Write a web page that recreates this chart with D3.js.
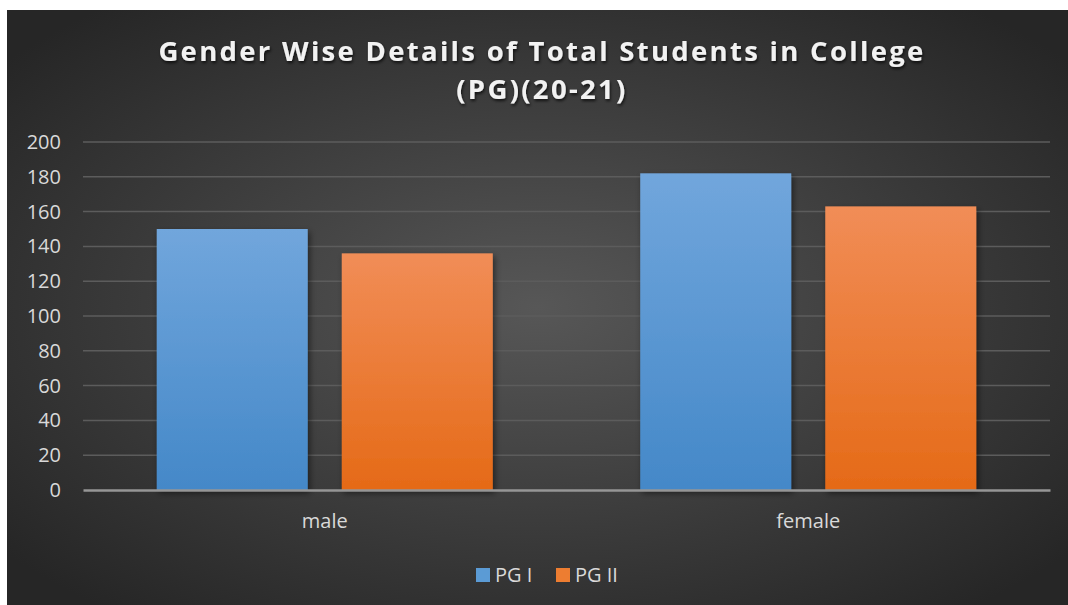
<!doctype html>
<html lang="en">
  <head>
    <meta charset="utf-8">
    <title>Gender Wise Details</title>
    <style>
      body { margin: 0; background: #fff; }
      svg { display: block; }
    </style>
  </head>
  <body>
    <div id="chart"></div>
    <script src="https://d3js.org/d3.v7.min.js"></script>
    <script>
    // data
    var categories = ["male", "female"];
    var series = ["PG I", "PG II"];
    var pg1 = [150, 182];
    var pg2 = [136, 163];
    var yTicks = [0, 20, 40, 60, 80, 100, 120, 140, 160, 180, 200];
    var titleLines = ["Gender Wise Details of Total Students in College", "(PG)(20-21)"];

    var values = [pg1, pg2];
    var rows = categories.map(function(c, i) {
      return { cat: c, vals: series.map(function(s, j) { return { key: s, value: values[j][i] }; }) };
    });

    var W = 1068, H = 605;
    var font = "'Open Sans', sans-serif";
    var svg = d3.select("#chart").append("svg")
        .attr("width", W)
        .attr("height", H);

    var defs = svg.append("defs");

    // radial background
    var bg = defs.append("radialGradient").attr("id", "bg")
        .attr("cx", "50%").attr("cy", "50%").attr("r", "65%");
    bg.append("stop").attr("offset", "0%").attr("stop-color", "#575757");
    bg.append("stop").attr("offset", "100%").attr("stop-color", "#262626");

    var blue = defs.append("linearGradient").attr("id", "blue")
        .attr("x1", 0).attr("y1", 0).attr("x2", 0).attr("y2", 1);
    blue.append("stop").attr("offset", "0%").attr("stop-color", "#71a6dc");
    blue.append("stop").attr("offset", "100%").attr("stop-color", "#4488c8");

    var orange = defs.append("linearGradient").attr("id", "orange")
        .attr("x1", 0).attr("y1", 0).attr("x2", 0).attr("y2", 1);
    orange.append("stop").attr("offset", "0%").attr("stop-color", "#f18d57");
    orange.append("stop").attr("offset", "100%").attr("stop-color", "#e56a17");

    var shadow = defs.append("filter").attr("id", "shadow")
        .attr("x", "-20%").attr("y", "-20%").attr("width", "140%").attr("height", "140%");
    shadow.append("feDropShadow").attr("dx", 2).attr("dy", 3).attr("stdDeviation", 3)
        .attr("flood-color", "#000").attr("flood-opacity", 0.5);

    var tshadow = defs.append("filter").attr("id", "tshadow");
    tshadow.append("feDropShadow").attr("dx", 1).attr("dy", 2).attr("stdDeviation", 1.5)
        .attr("flood-color", "#000").attr("flood-opacity", 0.7);

    svg.append("rect")
        .attr("x", 7).attr("y", 10)
        .attr("width", W - 7).attr("height", H - 10)
        .attr("fill", "url(#bg)");

    var margin = { left: 83, right: 18, top: 142, bottom: 115 };
    var plotW = W - margin.left - margin.right;
    var plotH = H - margin.top - margin.bottom;

    var g = svg.append("g").attr("transform", "translate(" + margin.left + "," + margin.top + ")");

    var x0 = d3.scaleBand().domain(categories).range([0, plotW]);
    var outer = x0.bandwidth() * 0.1525;
    var x1 = d3.scaleBand().domain(series)
        .range([outer, x0.bandwidth() - outer])
        .paddingInner(0.184);

    var y = d3.scaleLinear().domain([0, 200]).range([plotH, 0]);
    var color = d3.scaleOrdinal().domain(series).range(["url(#blue)", "url(#orange)"]);
    var legendColor = d3.scaleOrdinal().domain(series).range(["#5b9bd5", "#ed7d31"]);

    // gridlines
    g.append("g")
      .selectAll("line")
      .data(yTicks.slice(1))
      .join("line")
        .attr("x1", 0).attr("x2", plotW)
        .attr("y1", function(d) { return y(d); })
        .attr("y2", function(d) { return y(d); })
        .attr("stroke", "#5c5c5c")
        .attr("stroke-width", 1.5);

    // y axis labels
    var yAxis = g.append("g")
        .call(d3.axisLeft(y).tickValues(yTicks).tickSize(0).tickPadding(22));
    yAxis.select(".domain").remove();
    yAxis.selectAll("text")
        .attr("fill", "#d9d9d9")
        .attr("font-family", font)
        .attr("font-size", 20);

    // bars
    g.append("g")
      .selectAll("g")
      .data(rows)
      .join("g")
        .attr("transform", function(d) { return "translate(" + x0(d.cat) + ",0)"; })
      .selectAll("rect")
      .data(function(d) { return d.vals; })
      .join("rect")
        .attr("x", function(d) { return x1(d.key); })
        .attr("y", function(d) { return y(d.value); })
        .attr("width", x1.bandwidth())
        .attr("height", function(d) { return plotH - y(d.value); })
        .attr("fill", function(d) { return color(d.key); })
        .attr("filter", "url(#shadow)");

    // x axis
    var xAxis = g.append("g")
        .attr("transform", "translate(0," + plotH + ")")
        .call(d3.axisBottom(x0).tickSize(0).tickPadding(24));
    xAxis.select(".domain")
        .attr("stroke", "#969696")
        .attr("stroke-width", 2.5);
    xAxis.selectAll("text")
        .attr("fill", "#d9d9d9")
        .attr("font-family", font)
        .attr("font-size", 20);

    // title
    svg.append("g")
      .selectAll("text")
      .data(titleLines)
      .join("text")
        .attr("x", 542)
        .attr("y", function(d, i) { return 61 + i * 38; })
        .attr("text-anchor", "middle")
        .attr("fill", "#f2f2f2")
        .attr("font-family", font)
        .attr("font-weight", "bold")
        .attr("font-size", 27.5)
        .attr("letter-spacing", 2.3)
        .attr("filter", "url(#tshadow)")
        .text(function(d) { return d; });

    // legend
    var legend = svg.append("g").attr("transform", "translate(476,575)");
    var item = legend.selectAll("g")
      .data(series)
      .join("g")
        .attr("transform", function(d, i) { return "translate(" + (i * 80) + ",0)"; });
    item.append("rect")
        .attr("x", 0).attr("y", -7)
        .attr("width", 14).attr("height", 14)
        .attr("fill", function(d) { return legendColor(d); });
    item.append("text")
        .attr("x", 19).attr("y", 0)
        .attr("dy", "0.35em")
        .attr("fill", "#d9d9d9")
        .attr("font-family", font)
        .attr("font-size", 20)
        .text(function(d) { return d; });
    </script>
  </body>
</html>
